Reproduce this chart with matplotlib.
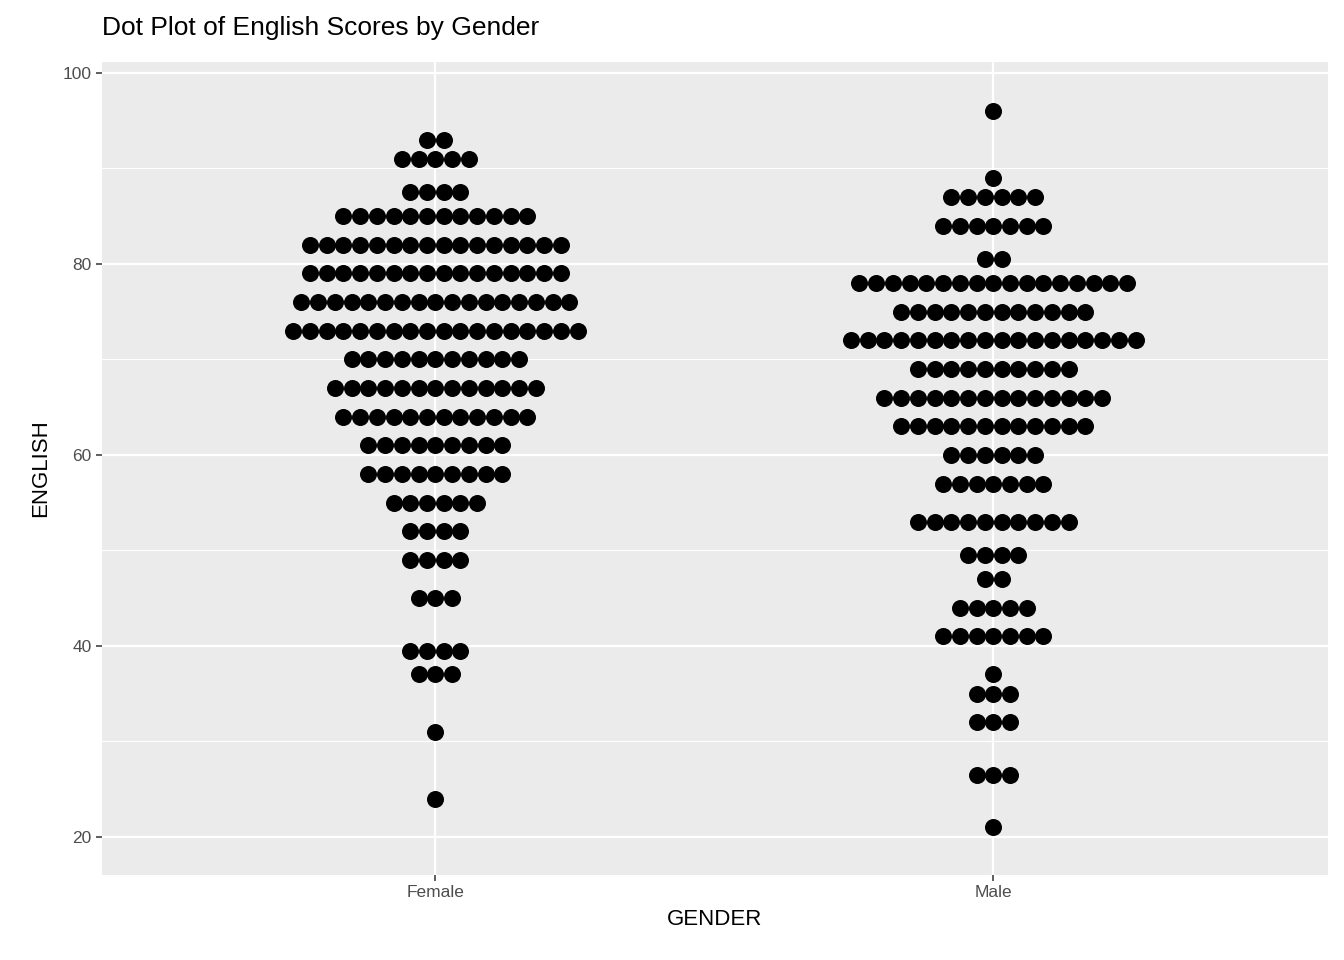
import matplotlib.pyplot as plt
import numpy as np

plt.rcParams['font.family'] = ['Liberation Sans', 'DejaVu Sans']

genders = ['Female', 'Male']

female_scores = [93, 91, 87.5, 85, 82, 79, 76, 73, 70, 67, 64, 61, 58, 55, 52, 49, 45, 39.5, 37, 31, 24]
female_counts = [2, 5, 4, 12, 16, 16, 17, 18, 11, 13, 12, 9, 9, 6, 4, 4, 3, 4, 3, 1, 1]

male_scores = [96, 89, 87, 84, 80.5, 78, 75, 72, 69, 66, 63, 60, 57, 53, 49.5, 47, 44, 41, 37, 35, 32, 26.5, 21]
male_counts = [1, 1, 6, 7, 2, 17, 12, 18, 10, 14, 12, 6, 7, 10, 4, 2, 5, 7, 1, 3, 3, 3, 1]

fig = plt.figure(figsize=(13.44, 9.6), dpi=100)
ax = fig.add_axes([102/1344, 1 - 875/960, (1328-102)/1344, (875-62)/960])
ax.set_facecolor('#EBEBEB')

step = 0.0300  # dot spacing in x units
for gi, (scores, counts) in enumerate([(female_scores, female_counts), (male_scores, male_counts)]):
    for s, n in zip(scores, counts):
        xs = gi + 1 + (np.arange(n) - (n - 1) / 2) * step
        ax.scatter(xs, np.full(n, s), s=150, color='black', linewidths=0, zorder=3)

ax.set_xlim(0.4025, 2.6)
ax.set_ylim(16.0, 101.15)
ax.set_xticks([1, 2])
ax.set_xticklabels(genders)
ax.set_yticks([20, 40, 60, 80, 100])
ax.set_yticks([30, 50, 70, 90], minor=True)
ax.grid(which='major', color='white', linewidth=1.6)
ax.grid(which='minor', axis='y', color='white', linewidth=0.8)
ax.set_axisbelow(True)
for sp in ax.spines.values():
    sp.set_visible(False)
ax.tick_params(which='major', colors='#333333', labelsize=12.5, length=4, width=1.1, color='#333333')
ax.tick_params(which='minor', length=0)
ax.tick_params(axis='x', labelcolor='#4D4D4D')
ax.tick_params(axis='y', labelcolor='#4D4D4D')

ax.set_xlabel('GENDER', fontsize=16, labelpad=6)
ax.set_ylabel('ENGLISH', fontsize=16, labelpad=8)
fig.text(102/1344, 1 - 28/960, 'Dot Plot of English Scores by Gender', fontsize=19, va='center', ha='left')

fig.savefig('out.png', dpi=100)
